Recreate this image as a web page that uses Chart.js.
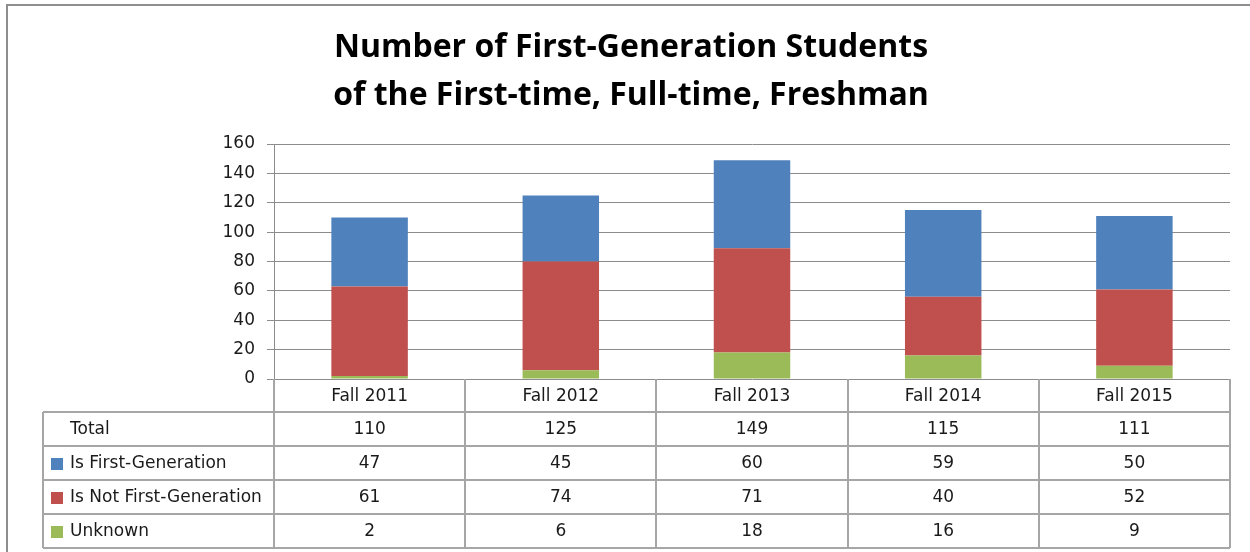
<!DOCTYPE html>
<html>
<head>
<meta charset="utf-8">
<script src="https://cdn.jsdelivr.net/npm/chart.js@4.4.1/dist/chart.umd.min.js"></script>
<style>
    html, body { margin: 0; padding: 0; background: #fff; }
</style>
</head>
<body>
<canvas id="graph" width="1250" height="552"></canvas>
<script>
const terms = ["Fall 2011", "Fall 2012", "Fall 2013", "Fall 2014", "Fall 2015"];
const first_gen = [47, 45, 60, 59, 50];
const not_first_gen = [61, 74, 71, 40, 52];
const unknown = [2, 6, 18, 16, 9];
const totals = [110, 125, 149, 115, 111];

const title_lines = ["Number of First-Generation Students", "of the First-time, Full-time, Freshman"];

const blue = "rgb(79, 129, 189)";
const red = "rgb(192, 80, 77)";
const green = "rgb(155, 187, 89)";

/* rows of the data table under the chart, top to bottom */
const table_rows = [
    { label: "Total", values: totals, color: null },
    { label: "Is First-Generation", values: first_gen, color: blue },
    { label: "Is Not First-Generation", values: not_first_gen, color: red },
    { label: "Unknown", values: unknown, color: green },
];

const table_font = "17px 'DejaVu Sans', sans-serif";
const line_gray = "#a6a6a6";

const dataTable = {
    id: "dataTable",
    beforeDraw(chart) {
        const ctx = chart.ctx;
        ctx.save();
        ctx.fillStyle = "#fff";
        ctx.fillRect(0, 0, chart.width, chart.height);
        /* outer chart frame, cut off at right and bottom */
        ctx.strokeStyle = "#8e8e8e";
        ctx.lineWidth = 2;
        ctx.beginPath();
        ctx.moveTo(7, chart.height);
        ctx.lineTo(7, 5);
        ctx.lineTo(chart.width, 5);
        ctx.stroke();
        ctx.restore();
    },
    afterDraw(chart) {
        const ctx = chart.ctx;
        const xs = chart.scales.x;
        const area = chart.chartArea;
        const cw = (xs.right - xs.left) / terms.length;
        const head_h = 33;
        const row_h = 34;
        const top = area.bottom;
        const head_bottom = top + head_h;
        const bottom = head_bottom + row_h * table_rows.length;
        const left = 43;

        ctx.save();
        ctx.strokeStyle = line_gray;
        ctx.lineWidth = 2;

        /* vertical lines: category boundaries */
        ctx.beginPath();
        for (let k = 0; k <= terms.length; k++) {
            const x = Math.round(xs.left + k * cw);
            ctx.moveTo(x, top);
            ctx.lineTo(x, bottom);
        }
        ctx.moveTo(left, head_bottom);
        ctx.lineTo(left, bottom);
        /* horizontal lines */
        for (let r = 0; r <= table_rows.length; r++) {
            const y = head_bottom + r * row_h;
            ctx.moveTo(left, y);
            ctx.lineTo(xs.right, y);
        }
        ctx.stroke();

        ctx.fillStyle = "#1a1a1a";
        ctx.font = table_font;
        ctx.textAlign = "center";
        ctx.textBaseline = "middle";
        for (let i = 0; i < terms.length; i++) {
            ctx.fillText(terms[i], xs.getPixelForValue(i), top + head_h / 2 + 1);
        }

        table_rows.forEach((row, r) => {
            const yc = head_bottom + r * row_h + row_h / 2 + 1;
            ctx.textAlign = "left";
            ctx.fillStyle = "#1a1a1a";
            ctx.fillText(row.label, 70, yc);
            if (row.color) {
                ctx.fillStyle = row.color;
                ctx.fillRect(51, yc - 6, 12, 12);
            }
            ctx.fillStyle = "#1a1a1a";
            ctx.textAlign = "center";
            for (let i = 0; i < row.values.length; i++) {
                ctx.fillText(String(row.values[i]), xs.getPixelForValue(i), yc);
            }
        });
        ctx.restore();
    },
};

const ctx = document.getElementById("graph");
const graph = new Chart(ctx, {
    type: "bar",
    data: {
        labels: terms,
        datasets: [
            { label: "Unknown", data: unknown, backgroundColor: green },
            { label: "Is Not First-Generation", data: not_first_gen, backgroundColor: red },
            { label: "Is First-Generation", data: first_gen, backgroundColor: blue },
        ],
    },
    options: {
        responsive: false,
        devicePixelRatio: 1,
        animation: false,
        layout: {
            padding: { top: 0, left: 32, right: 20, bottom: 173 },
        },
        datasets: {
            bar: { categoryPercentage: 1, barPercentage: 0.4 },
        },
        plugins: {
            legend: { display: false },
            tooltip: { enabled: false },
            title: {
                display: true,
                text: title_lines,
                color: "#000",
                font: { family: "'Open Sans', sans-serif", size: 32, weight: "bold", lineHeight: 1.5 },
                padding: { top: 24, bottom: 24 },
            },
        },
        scales: {
            x: {
                stacked: true,
                display: false,
            },
            y: {
                stacked: true,
                min: 0,
                max: 160,
                afterFit(scale) {
                    scale.width = 242;
                },
                ticks: {
                    stepSize: 20,
                    padding: 12,
                    color: "#1a1a1a",
                    font: { family: "'DejaVu Sans', sans-serif", size: 17 },
                },
                grid: {
                    color: "#8c8c8c",
                    lineWidth: 1,
                    tickLength: 7,
                },
                border: { color: "#8c8c8c", width: 1 },
            },
        },
    },
    plugins: [dataTable],
});
</script>
</body>
</html>
